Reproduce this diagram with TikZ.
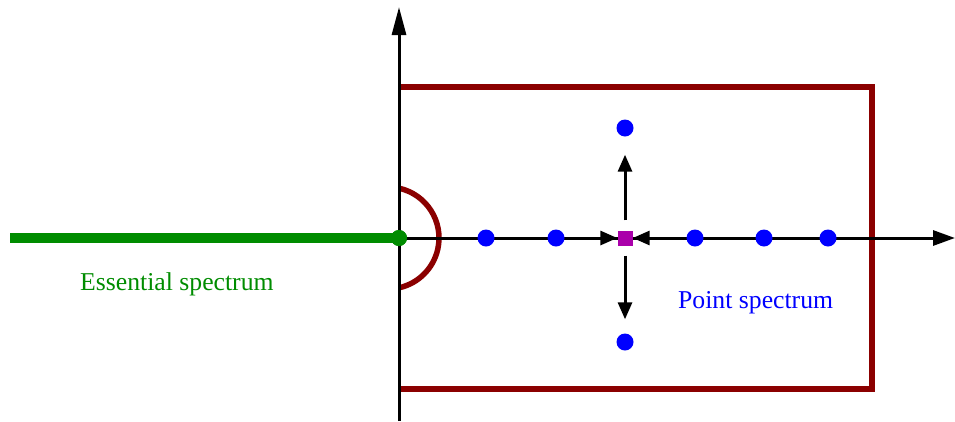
\documentclass[tikz,border=0pt]{standalone}
\usepackage{fontspec}
\setmainfont{Liberation Serif}
\usetikzlibrary{arrows.meta}
\definecolor{essgreen}{RGB}{0,140,0}
\definecolor{boxred}{RGB}{139,0,0}
\definecolor{ptblue}{RGB}{0,0,255}
\definecolor{sqmag}{RGB}{170,0,170}
\tikzset{
  axisline/.style={line width=3pt, black},
  boxline/.style={line width=5.5pt, boxred, line join=miter},
  ptdot/.style={circle, fill=ptblue, inner sep=0pt, minimum size=17pt},
  gdot/.style={circle, fill=essgreen, inner sep=0pt, minimum size=16pt},
  sqnode/.style={rectangle, fill=sqmag, inner sep=0pt, minimum size=15pt},
  moveto/.style={line width=3pt, black, -{Triangle[length=17pt,width=14pt]}},
  lbl/.style={font=\fontsize{25.7}{30}\selectfont, inner sep=0pt, anchor=base west}
}
\begin{document}
\begin{tikzpicture}[x=1pt,y=-1pt]
\useasboundingbox (0,0) rectangle (955,421);
% rectangle (open on the axis side)
\draw[boxline] (399,87) -- (872,87) -- (872,389) -- (399,389);
% arc (circle centred slightly left of the vertical axis)
\coordinate (arcC) at (388,238);
\draw[boxline] (arcC) ++(-77.5:51) arc[start angle=-77.5, end angle=77.5, radius=51];
% essential spectrum line
\coordinate (essL) at (10,238);
\node[gdot] (origin) at (399,238) {};
\draw[line width=10pt, essgreen] (essL) -- (origin.center);
% axes
\coordinate (vB) at (399,421);
\coordinate (vT) at (399,7);
\coordinate (hL) at (399,238);
\coordinate (hR) at (955,238);
\draw[axisline, -{Triangle[length=28pt,width=14pt]}] (vB) -- (vT);
\draw[axisline, -{Triangle[length=22pt,width=15pt]}] (hL) -- (hR);
\node[gdot] (origin2) at (399,238) {};
% point spectrum
\node[ptdot] (p1) at (486,238) {};
\node[ptdot] (p2) at (556,238) {};
\node[ptdot] (p3) at (695,238) {};
\node[ptdot] (p4) at (764,238) {};
\node[ptdot] (p5) at (828,238) {};
\node[ptdot] (pu) at (625,128) {};
\node[ptdot] (pd) at (625,342) {};
\node[sqnode] (sq) at (625,238) {};
\draw[moveto, shorten <=10pt, shorten >=18pt] (sq) -- (pu);
\draw[moveto, shorten <=10pt, shorten >=14pt] (sq) -- (pd);
\draw[moveto] (p2) -- (sq);
\draw[moveto] (p3) -- (sq);
% labels
\node[lbl, text=essgreen] (esslbl) at (80,290) {Essential spectrum};
\node[lbl, text=ptblue] (ptlbl) at (678,308) {Point spectrum};
\end{tikzpicture}
\end{document}
